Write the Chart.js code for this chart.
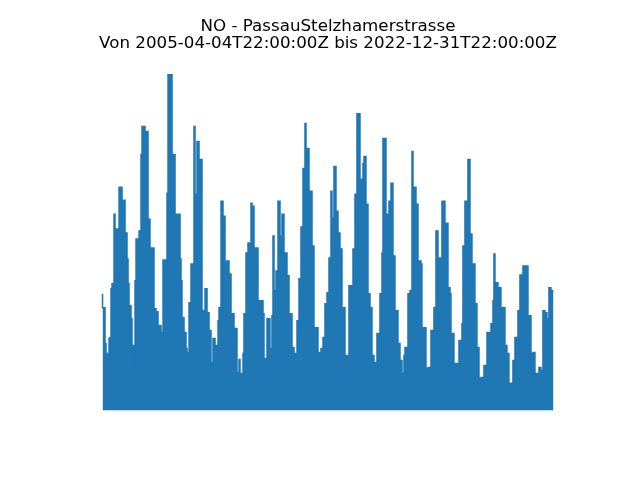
<!DOCTYPE html>
<html>
<head>
<meta charset="utf-8">
<script src="https://cdn.jsdelivr.net/npm/chart.js@4"></script>
<style>
  html, body { margin: 0; padding: 0; background: #ffffff; }
  #wrap { width: 640px; height: 480px; }
</style>
</head>
<body>
<div id="wrap"><canvas id="c" width="640" height="480"></canvas></div>
<script>
const titleLines = ["NO - PassauStelzhamerstrasse", "Von 2005-04-04T22:00:00Z bis 2022-12-31T22:00:00Z"];

// time (decimal year) of each envelope sample
const years = [
  2005.257, 2005.355, 2005.394, 2005.512, 2005.552, 2005.591, 2005.630, 2005.709, 2005.748, 2005.866,
  2005.906, 2006.024, 2006.142, 2006.220, 2006.260, 2006.299, 2006.378, 2006.417, 2006.496, 2006.535,
  2006.575, 2006.693, 2006.771, 2006.811, 2006.929, 2007.047, 2007.125, 2007.283, 2007.361, 2007.440,
  2007.558, 2007.637, 2007.794, 2007.834, 2007.991, 2008.109, 2008.306, 2008.345, 2008.384, 2008.463,
  2008.542, 2008.581, 2008.660, 2008.738, 2008.856, 2008.896, 2008.974, 2009.053, 2009.171, 2009.289,
  2009.368, 2009.447, 2009.525, 2009.604, 2009.683, 2009.801, 2009.840, 2009.919, 2009.997, 2010.076,
  2010.233, 2010.312, 2010.430, 2010.548, 2010.627, 2010.666, 2010.784, 2010.823, 2010.902, 2010.981,
  2011.099, 2011.138, 2011.217, 2011.374, 2011.571, 2011.610, 2011.728, 2011.846, 2011.925, 2011.964,
  2012.004, 2012.082, 2012.161, 2012.240, 2012.318, 2012.397, 2012.515, 2012.594, 2012.712, 2012.791,
  2012.909, 2012.987, 2013.066, 2013.145, 2013.223, 2013.263, 2013.381, 2013.499, 2013.577, 2013.735,
  2013.853, 2013.932, 2014.010, 2014.089, 2014.168, 2014.246, 2014.286, 2014.364, 2014.443, 2014.522,
  2014.600, 2014.679, 2014.797, 2014.915, 2014.954, 2015.112, 2015.190, 2015.269, 2015.387, 2015.505,
  2015.545, 2015.623, 2015.702, 2015.781, 2015.859, 2015.938, 2016.056, 2016.174, 2016.253, 2016.292,
  2016.410, 2016.528, 2016.607, 2016.685, 2016.764, 2016.882, 2016.961, 2017.040, 2017.118, 2017.158,
  2017.276, 2017.354, 2017.433, 2017.472, 2017.590, 2017.669, 2017.787, 2017.826, 2017.984, 2018.062,
  2018.180, 2018.298, 2018.377, 2018.456, 2018.613, 2018.731, 2018.849, 2018.928, 2018.967, 2019.085,
  2019.282, 2019.400, 2019.439, 2019.518, 2019.636, 2019.715, 2019.793, 2019.911, 2019.990, 2020.069,
  2020.148, 2020.266, 2020.384, 2020.541, 2020.620, 2020.659, 2020.698, 2020.816, 2020.856, 2020.934,
  2021.092, 2021.170, 2021.249, 2021.406, 2021.485, 2021.603, 2021.682, 2021.800, 2021.997, 2022.115,
  2022.193, 2022.272, 2022.429, 2022.508, 2022.587, 2022.665, 2022.744, 2022.823, 2022.901, 2023.000
];

// NO peak values at those times
const noValues = [
  117, 103, 67, 57, 72, 73, 122, 127, 197, 182,
  165, 224, 211, 178, 152, 127, 105, 92, 65, 45,
  130, 172, 180, 257, 285, 280, 192, 163, 102, 99,
  85, 78, 151, 218, 337, 257, 197, 152, 130, 93,
  78, 62, 58, 108, 147, 285, 217, 270, 252, 100,
  122, 98, 80, 48, 72, 65, 90, 103, 210, 195,
  150, 137, 97, 82, 38, 51, 37, 57, 97, 158,
  168, 208, 205, 163, 110, 97, 52, 92, 62, 95,
  175, 120, 140, 210, 175, 197, 158, 135, 97, 63,
  57, 90, 132, 184, 243, 288, 263, 220, 165, 83,
  58, 62, 73, 107, 118, 153, 220, 193, 245, 200,
  178, 162, 103, 55, 50, 125, 162, 217, 298, 232,
  248, 255, 207, 117, 103, 55, 48, 77, 117, 158,
  273, 197, 210, 228, 155, 100, 67, 50, 37, 55,
  63, 117, 120, 260, 224, 207, 150, 147, 83, 42,
  43, 80, 103, 180, 153, 210, 188, 123, 117, 77,
  47, 70, 87, 165, 210, 252, 177, 147, 107, 63,
  32, 33, 45, 78, 87, 110, 157, 128, 115, 123,
  103, 65, 57, 27, 50, 73, 100, 136, 145, 95,
  57, 58, 37, 43, 40, 100, 98, 92, 123, 120
];

const xMin = 2004.370, xMax = 2023.887;
const yMin = -16.85, yMax = 353.85;

const points = years.map((t, i) => ({ x: t, y: noValues[i] }));

new Chart(document.getElementById('c'), {
  type: 'line',
  data: {
    datasets: [{
      label: 'NO',
      data: points,
      borderColor: '#1f77b4',
      backgroundColor: '#1f77b4',
      borderWidth: 1.5,
      pointRadius: 0,
      stepped: 'after',
      fill: 'origin',
      tension: 0
    }]
  },
  options: {
    responsive: false,
    animation: false,
    devicePixelRatio: 1,
    layout: { padding: { left: 80, right: 64, top: 0, bottom: 53 } },
    plugins: {
      legend: { display: false },
      tooltip: { enabled: false },
      title: {
        display: true,
        text: titleLines,
        color: '#000000',
        font: { family: 'DejaVu Sans', size: 16.7, weight: 'normal', lineHeight: 1.02 },
        padding: { top: 18.5, bottom: 5.5 }
      }
    },
    scales: {
      x: { type: 'linear', min: xMin, max: xMax, display: false },
      y: { type: 'linear', min: yMin, max: yMax, display: false }
    }
  }
});
</script>
</body>
</html>
